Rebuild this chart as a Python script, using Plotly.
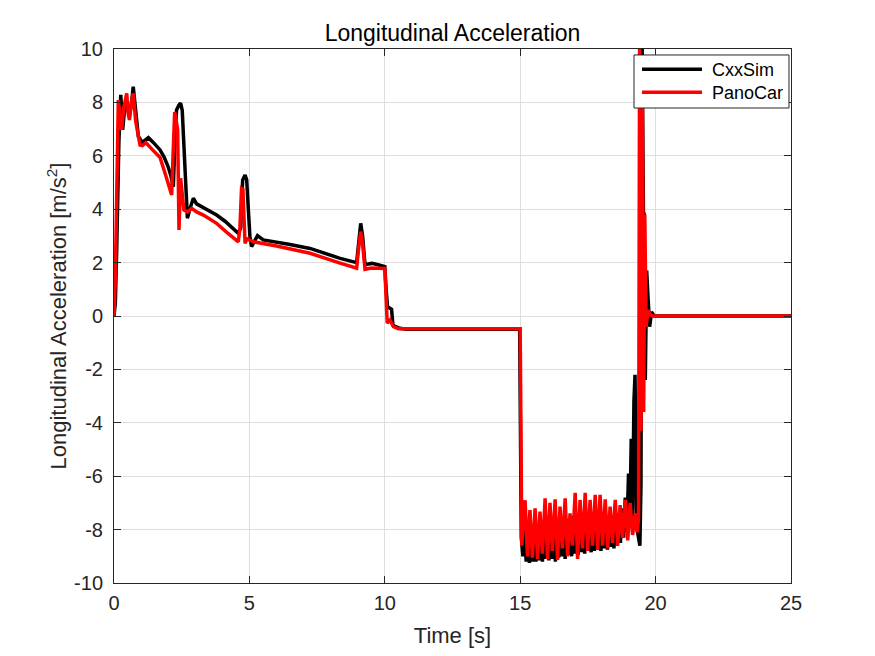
import plotly.graph_objects as go

# ---------------- data ----------------
t_cxx = [0, 0.05, 0.10, 0.18, 0.25, 0.32, 0.41, 0.50, 0.57, 0.64, 0.71, 0.80, 0.90,
         1.05, 1.27, 1.45, 1.70, 1.85, 2.00, 2.10, 2.19, 2.25, 2.31, 2.40, 2.46, 2.52,
         2.60, 2.66, 2.71, 2.80, 2.93, 3.05, 3.24, 3.50, 3.79, 4.10, 4.40, 4.59, 4.68,
         4.75, 4.84, 4.90, 4.96, 5.02, 5.08, 5.18, 5.30, 5.51, 6.00, 6.50, 7.24, 7.80,
         8.35, 8.96, 9.02, 9.11, 9.18, 9.27, 9.40, 9.52, 9.75, 10.00, 10.05, 10.10,
         10.25, 10.30, 10.40, 10.56, 10.80, 12.00, 14.00, 14.98,
         15.04, 15.10, 15.16, 15.22, 15.28, 15.34, 15.40, 15.46, 15.52, 15.58, 15.64,
         15.70, 15.76, 15.82, 15.88, 15.94, 16.00, 16.06, 16.12, 16.18, 16.24, 16.30,
         16.36, 16.42, 16.48, 16.54, 16.60, 16.66, 16.72, 16.78, 16.84, 16.90, 16.96,
         17.02, 17.08, 17.14, 17.20, 17.26, 17.32, 17.38, 17.44, 17.50, 17.56, 17.62,
         17.68, 17.74, 17.80, 17.86, 17.92, 17.98, 18.04, 18.10, 18.16, 18.22, 18.28,
         18.34, 18.40, 18.46, 18.52, 18.58, 18.64, 18.70, 18.76, 18.82, 18.88, 18.94,
         19.00, 19.05, 19.10, 19.15, 19.20, 19.24, 19.30, 19.38, 19.42, 19.46, 19.50,
         19.55, 19.58, 19.62, 19.67, 19.72, 19.78, 19.85, 19.95, 20.30, 25.00]
a_cxx = [0, 0.5, 2.5, 6.5, 8.28, 6.97, 7.96, 7.80, 7.46, 7.90, 8.59, 7.60, 6.72,
         6.50, 6.68, 6.50, 6.22, 5.95, 5.59, 5.25, 4.84, 6.50, 7.72, 7.90, 7.97, 7.70,
         5.80, 4.47, 3.66, 4.00, 4.41, 4.20, 4.09, 3.95, 3.78, 3.55, 3.30, 3.10, 3.30,
         5.09, 5.28, 5.10, 4.00, 2.97, 2.60, 2.80, 3.01, 2.85, 2.78, 2.68, 2.53, 2.35,
         2.16, 2.00, 2.60, 3.47, 3.00, 1.91, 1.95, 1.97, 1.92, 1.85, 1.00, 0.35,
         0.25, -0.34, -0.40, -0.46, -0.50, -0.50, -0.50, -0.50,
         -8.3, -9.0, -7.9, -9.2, -8.1, -9.25, -7.8, -9.2, -8.0, -9.2, -7.9,
         -9.15, -8.1, -9.2, -7.7, -9.1, -8.0, -9.15, -7.8, -9.1, -7.6, -9.2,
         -7.9, -9.05, -7.7, -9.0, -7.8, -9.1, -7.6, -8.95, -7.9, -9.0, -7.5,
         -8.9, -7.7, -8.95, -7.6, -8.85, -7.5, -8.9, -7.7, -8.8, -7.6, -8.85,
         -7.5, -8.8, -7.7, -8.75, -7.6, -8.8, -7.5, -8.7, -7.7, -8.75, -7.6,
         -8.65, -7.5, -8.7, -7.6, -8.6, -7.4, -8.5, -7.2, -8.3, -6.8, -8.1,
         -5.9, -7.8, -4.6, -7.6, -3.2, -2.2, -7.9, -8.3, -8.6, -6.3, 10.5,
         3.9, 3.8, -2.4, 1.7, 0.7, -0.4, 0.15, 0.0, 0.0, 0.0]

t_pano = [0, 0.05, 0.10, 0.16, 0.22, 0.28, 0.36, 0.47, 0.52, 0.57, 0.64, 0.71, 0.80,
          0.96, 1.05, 1.18, 1.40, 1.70, 1.90, 2.13, 2.18, 2.22, 2.24, 2.30, 2.35, 2.40,
          2.46, 2.58, 2.71, 2.87, 3.05, 3.30, 3.79, 4.20, 4.59, 4.65, 4.71, 4.76, 4.84,
          4.90, 5.15, 6.00, 7.24, 8.35, 8.96, 9.03, 9.11, 9.18, 9.27, 9.50, 10.00,
          10.09, 10.19, 10.32, 10.50, 15.00,
          15.06, 15.12, 15.18, 15.27, 15.36, 15.45, 15.55, 15.64, 15.73, 15.82, 15.92,
          16.01, 16.10, 16.19, 16.29, 16.38, 16.47, 16.56, 16.66, 16.75, 16.84, 16.93,
          17.03, 17.12, 17.21, 17.30, 17.40, 17.49, 17.58, 17.67, 17.77, 17.86, 17.95,
          18.04, 18.14, 18.23, 18.32, 18.41, 18.51, 18.60, 18.69, 18.78, 18.88, 18.97,
          19.06, 19.15, 19.25, 19.32, 19.37, 19.41, 19.46, 19.51, 19.56, 19.60, 19.65,
          19.72, 19.80, 19.90, 25.00]
a_pano = [0, 1.5, 4.5, 8.09, 7.50, 6.97, 7.80, 8.34, 7.60, 7.34, 8.00, 8.34, 7.30,
          6.40, 6.38, 6.49, 6.25, 5.94, 5.30, 4.53, 6.00, 7.59, 7.64, 7.30, 6.97, 3.22,
          5.16, 3.97, 3.90, 4.03, 3.90, 3.78, 3.47, 3.10, 2.78, 3.30, 4.78, 4.75, 2.72,
          2.90, 2.78, 2.62, 2.35, 1.98, 1.79, 2.50, 3.16, 2.70, 1.75, 1.80, 1.78,
          -0.27, -0.15, -0.40, -0.48, -0.48,
          -8.6, -7.6, -6.9, -9.0, -7.27, -9.05, -7.2, -9.1, -7.33, -8.9, -6.83,
          -9.1, -7.0, -8.8, -6.87, -9.14, -7.14, -8.7, -6.83, -9.0, -7.39, -8.6,
          -6.62, -9.1, -6.89, -8.7, -6.62, -8.8, -6.89, -8.6, -6.7, -8.75, -6.7,
          -8.6, -6.87, -8.7, -7.14, -8.5, -6.89, -8.6, -7.08, -8.3, -6.89, -8.4,
          -7.0, -8.2, -7.39, -8.1, -7.6, 10.5, -4.3, 9.0, -3.6, 3.8, -0.4,
          0.22, 0.05, 0.0, 0.0]

series_names = ["CxxSim", "PanoCar"]
series_colors = ["black", "#ff0000"]
x_ticks = [0, 5, 10, 15, 20, 25]
y_ticks = [-10, -8, -6, -4, -2, 0, 2, 4, 6, 8, 10]
y_tick_labels = ["-10", "-8", "-6", "-4", "-2", "0", "2", "4", "6", "8", "10"]

FONT = "Liberation Sans, Arial, sans-serif"
AX = "#262626"

fig = go.Figure()
for t, a, name, col in zip([t_cxx, t_pano], [a_cxx, a_pano], series_names, series_colors):
    fig.add_trace(go.Scatter(x=t, y=a, mode="lines", name=name,
                             line=dict(color=col, width=3.5)))

axis_common = dict(showline=True, linecolor=AX, linewidth=1, mirror="ticks",
                   ticks="inside", ticklen=7, tickcolor=AX, tickwidth=1,
                   showgrid=True, gridcolor="#dedede", gridwidth=1, zeroline=False,
                   tickfont=dict(family=FONT, size=20, color=AX))

fig.update_xaxes(range=[0, 25], tickvals=x_ticks, ticklabelstandoff=2,
                 title=dict(text="Time [s]", font=dict(family=FONT, size=22, color=AX),
                            standoff=14),
                 **axis_common)
fig.update_yaxes(range=[-10, 10], tickvals=y_ticks, ticktext=y_tick_labels,
                 ticklabelstandoff=6,
                 title=dict(text="Longitudinal Acceleration [m/s<sup>2</sup>]",
                            font=dict(family=FONT, size=22, color=AX), standoff=1),
                 **axis_common)

# legend box drawn in the upper-right corner of the axes (MATLAB style)
leg_x0, leg_x1, leg_y0, leg_y1 = 0.7681, 0.9970, 0.8895, 0.9888
line_x0, line_x1 = 0.7799, 0.8686
entry_y = [0.9620, 0.9189]
text_y = [0.9607, 0.9167]
text_x = 0.8804

shapes = [dict(type="rect", xref="paper", yref="paper", x0=leg_x0, x1=leg_x1,
               y0=leg_y0, y1=leg_y1, fillcolor="white",
               line=dict(color=AX, width=1), layer="above")]
annotations = []
for name, col, ly, ty in zip(series_names, series_colors, entry_y, text_y):
    shapes.append(dict(type="line", xref="paper", yref="paper", x0=line_x0, x1=line_x1,
                       y0=ly, y1=ly, line=dict(color=col, width=3.5), layer="above"))
    annotations.append(dict(text=name, xref="paper", yref="paper", x=text_x, y=ty,
                            xanchor="left", yanchor="middle", showarrow=False,
                            font=dict(family=FONT, size=18, color="black")))

fig.update_layout(
    width=875, height=656,
    margin=dict(l=106, r=92, t=41, b=81),
    paper_bgcolor="white", plot_bgcolor="white",
    title=dict(text="Longitudinal Acceleration", x=0.5, xref="paper",
               y=1, yref="paper", yanchor="bottom", pad=dict(b=8),
               font=dict(family=FONT, size=23, color="black")),
    shapes=shapes,
    annotations=annotations,
    showlegend=False,
)

fig.write_html("out.html")
